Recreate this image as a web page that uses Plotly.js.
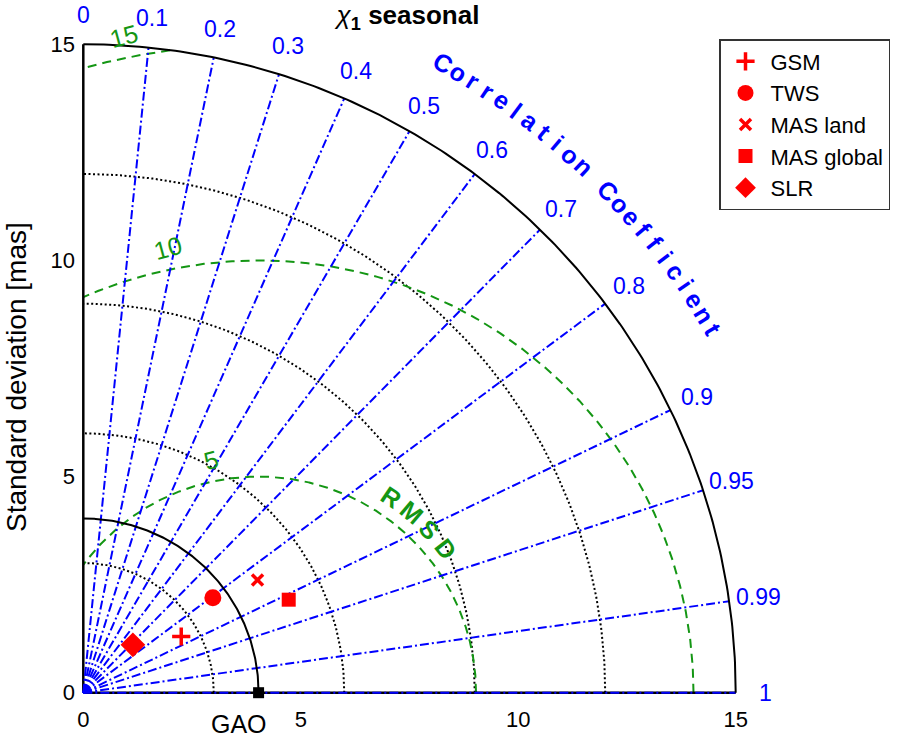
<!DOCTYPE html>
<html><head><meta charset="utf-8">
<script src="https://cdn.plot.ly/plotly-3.0.1.min.js"></script>
<style>html,body{margin:0;padding:0;background:#fff}</style>
</head><body>
<div id="chart" style="width:897px;height:738px"></div>
<script>
// ---- data ----
const seriesNames = ['GSM', 'TWS', 'MAS land', 'MAS global', 'SLR'];
const seriesStd   = [2.60, 3.70, 4.78, 5.19, 1.59];
const seriesCorr  = [0.866, 0.805, 0.838, 0.910, 0.717];
const refName = 'GAO';
const refStd = 4.03;
const corrTicks  = [0, 0.1, 0.2, 0.3, 0.4, 0.5, 0.6, 0.7, 0.8, 0.9, 0.95, 0.99, 1];
const corrLabels = ['0', '0.1', '0.2', '0.3', '0.4', '0.5', '0.6', '0.7', '0.8', '0.9', '0.95', '0.99', '1'];
const stdGrid = [3, 6, 9, 12];
const stdMax = 15;
const rmsdLevels = [5, 10, 15];
const rmsdLabels = ['5', '10', '15'];
const axisTicks = [0, 5, 10, 15];
const chartTitle = '<i>χ</i><b><sub>1</sub> seasonal</b>';
const yTitle = 'Standard deviation [mas]';
const corrTitle = 'Correlation Coefficient';
const rmsdTitle = 'RMSD';

// ---- styles ----
const FONT = '"Liberation Sans", Arial, Helvetica, sans-serif';
const BLUE = 'rgb(0,0,255)';
const GREEN = 'rgb(20,150,20)';
const RED = 'rgb(255,0,0)';
const D2R = Math.PI / 180;
const XR = [-0.03, 15.03], YR = [-0.03, 15.03];
const W = 655, H = 651, L = 82, T = 43;
const px = x => (x - XR[0]) / (XR[1] - XR[0]);
const py = y => (y - YR[0]) / (YR[1] - YR[0]);

function toXY(s, c) { const t = Math.acos(c); return [s * Math.cos(t), s * Math.sin(t)]; }

// quarter-disk arc helper
function arcPts(cx, r, n) {
  const xs = [], ys = [];
  let prevIn = false;
  for (let i = 0; i <= n; i++) {
    const a = Math.PI * i / n;
    const x = cx + r * Math.cos(a), y = r * Math.sin(a);
    const inside = x >= -1e-9 && y >= -1e-9 && (x * x + y * y) <= stdMax * stdMax + 1e-6;
    if (inside) { xs.push(x); ys.push(y); prevIn = true; }
    else if (prevIn) { xs.push(null); ys.push(null); prevIn = false; }
  }
  xs.push(null); ys.push(null);
  return [xs, ys];
}

const traces = [];

// std grid (dotted)
{
  let X = [], Y = [];
  stdGrid.forEach(r => { const [xs, ys] = arcPts(0, r, 400); X = X.concat(xs); Y = Y.concat(ys); });
  traces.push({x: X, y: Y, mode: 'lines', showlegend: false, hoverinfo: 'skip',
    line: {color: 'black', width: 2, dash: '2px,2.5px'}});
}
// RMSD circles (green dashed)
{
  let X = [], Y = [];
  rmsdLevels.forEach(r => { const [xs, ys] = arcPts(refStd, r, 1500); X = X.concat(xs); Y = Y.concat(ys); });
  traces.push({x: X, y: Y, mode: 'lines', showlegend: false, hoverinfo: 'skip',
    line: {color: GREEN, width: 2, dash: '9px,6px'}});
}
// axis lines (black)
traces.push({x: [0, 0, null, 0, stdMax], y: [stdMax, 0, null, 0, 0], mode: 'lines', showlegend: false,
  hoverinfo: 'skip', line: {color: 'black', width: 2.5}});
// correlation rays
{
  const X = [], Y = [];
  corrTicks.forEach(c => { if (c <= 0) return; const [x, y] = toXY(stdMax, c); X.push(0, x, null); Y.push(0, y, null); });
  traces.push({x: X, y: Y, mode: 'lines', showlegend: false, hoverinfo: 'skip',
    line: {color: BLUE, width: 2, dash: '9px,3px,2px,3px'}});
}
// outer arc + reference arc (solid black)
{
  let X = [], Y = [];
  [stdMax, refStd].forEach(r => { const [xs, ys] = arcPts(0, r, 400); X = X.concat(xs); Y = Y.concat(ys); });
  traces.push({x: X, y: Y, mode: 'lines', showlegend: false, hoverinfo: 'skip',
    line: {color: 'black', width: 2}});
}
// series markers
const symbols = ['cross-thin', 'circle', 'x-thin', 'square', 'diamond'];
const sizes = [13, 17, 11, 14, 19];
seriesNames.forEach((nm, i) => {
  const [x, y] = toXY(seriesStd[i], seriesCorr[i]);
  const thin = symbols[i].indexOf('thin') >= 0;
  traces.push({x: [x], y: [y], name: nm, mode: 'markers', legendgroup: 'g' + i, cliponaxis: false,
    marker: {symbol: symbols[i], size: sizes[i], color: RED,
      line: {color: RED, width: thin ? 3.5 : 0}}});
});
// reference point
traces.push({x: [refStd], y: [0], mode: 'markers', showlegend: false, cliponaxis: false, name: refName,
  marker: {symbol: 'square', size: 11, color: 'black'}});

// ---- annotations (paper coords) ----
const ann = [];
const labR = 15.68;
corrTicks.forEach((c, i) => {
  const [x, y] = toXY(labR, c);
  ann.push({x: px(x), y: py(y), xref: 'paper', yref: 'paper', text: corrLabels[i], showarrow: false,
    xanchor: 'center', yanchor: 'middle', font: {family: FONT, size: 23, color: BLUE}});
});
// Correlation Coefficient curved label
{
  const chars = corrTitle.split('');
  const a0 = 60.4, step = 1.377, R = 16.75;
  chars.forEach((ch, i) => {
    if (ch === ' ') return;
    const a = a0 - i * step, th = a * D2R;
    ann.push({x: px(R * Math.cos(th)), y: py(R * Math.sin(th)), xref: 'paper', yref: 'paper', text: '<b>' + ch + '</b>',
      showarrow: false, xanchor: 'center', yanchor: 'middle', textangle: 90 - a,
      font: {family: FONT, size: 25, color: BLUE}});
  });
}
// RMSD curved label
{
  const chars = rmsdTitle.split('');
  const a0 = 56, step = 6.1, R = 5.45;
  chars.forEach((ch, i) => {
    const a = a0 - i * step, th = a * D2R;
    ann.push({x: px(refStd + R * Math.cos(th)), y: py(R * Math.sin(th)), xref: 'paper', yref: 'paper',
      text: '<b>' + ch + '</b>', showarrow: false, xanchor: 'center', yanchor: 'middle', textangle: 90 - a,
      font: {family: FONT, size: 25, color: GREEN}});
  });
}
// RMSD level labels
rmsdLevels.forEach((r, i) => {
  const th = 101.5 * D2R, R = r + 0.5;
  ann.push({x: px(refStd + R * Math.cos(th)), y: py(R * Math.sin(th)), xref: 'paper', yref: 'paper',
    text: rmsdLabels[i], showarrow: false, xanchor: 'center', yanchor: 'middle', textangle: -15,
    font: {family: FONT, size: 25, color: GREEN}});
});
// GAO label
ann.push({x: px(refStd - 0.45), y: py(-0.72), xref: 'paper', yref: 'paper', text: refName, showarrow: false,
  xanchor: 'center', yanchor: 'middle', font: {family: FONT, size: 25, color: 'black'}});
// y title (pixel position converted to paper coords)
ann.push({x: (17 - L) / W, y: (T + H - 377) / H, xref: 'paper', yref: 'paper', text: yTitle, showarrow: false,
  textangle: -90, xanchor: 'center', yanchor: 'middle', font: {family: FONT, size: 28, color: 'black'}});

const layout = {
  width: 897, height: 738, autosize: false,
  paper_bgcolor: 'white', plot_bgcolor: 'white',
  margin: {l: L, r: 897 - L - W, t: T, b: 738 - T - H, pad: 0, autoexpand: false},
  font: {family: FONT, size: 22, color: 'black'},
  title: {text: chartTitle, x: 408 / 897, xanchor: 'center', y: 1 - 15 / 738, yanchor: 'middle',
    font: {family: FONT, size: 26, color: 'black'}},
  xaxis: {range: XR, tickvals: axisTicks, ticktext: axisTicks.map(String), ticks: '',
    showgrid: false, zeroline: false, showline: false, ticklabelstandoff: 10,
    tickfont: {family: FONT, size: 22, color: 'black'}, fixedrange: true},
  yaxis: {range: YR, tickvals: axisTicks, ticktext: axisTicks.map(String), ticks: '',
    showgrid: false, zeroline: false, showline: false, ticklabelstandoff: 6,
    tickfont: {family: FONT, size: 22, color: 'black'}, fixedrange: true},
  showlegend: true,
  legend: {x: (719 - L) / W, y: (T + H - 39) / H, xanchor: 'left', yanchor: 'top', xref: 'paper', yref: 'paper',
    bgcolor: 'white', bordercolor: '#333', borderwidth: 1.5, itemwidth: 40,
    traceorder: 'grouped', tracegroupgap: 0,
    font: {family: FONT, size: 22, color: 'black'}},
  annotations: ann,
  hovermode: false
};

Plotly.newPlot('chart', traces, layout, {staticPlot: true, displayModeBar: false});
</script>
</body></html>
